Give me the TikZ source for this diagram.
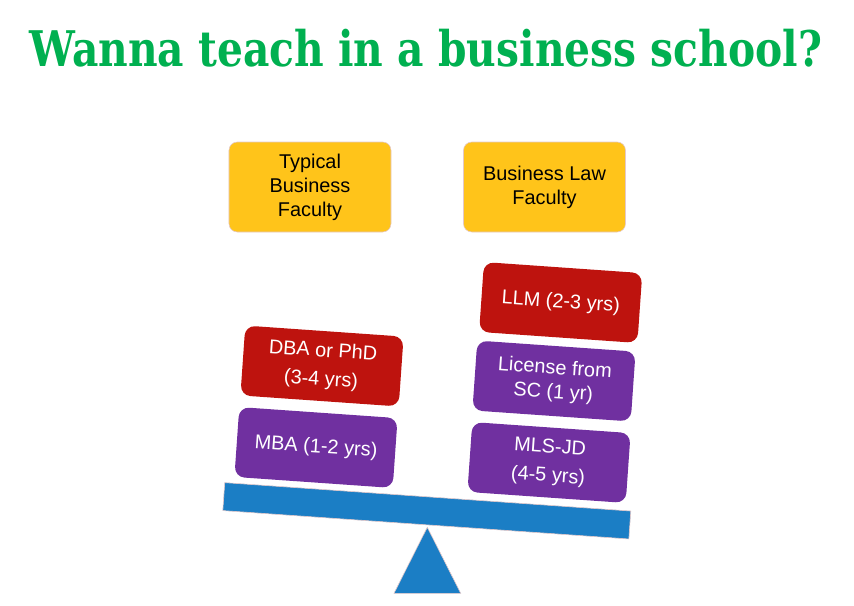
\documentclass[tikz,border=0pt]{standalone}
\usepackage{fontspec}
\setmainfont{Liberation Sans}
\newfontfamily\titlefont{DejaVu Serif}
\usepackage{graphicx}
\definecolor{titlegreen}{RGB}{0,176,80}
\definecolor{gold}{RGB}{255,196,26}
\definecolor{degred}{RGB}{190,19,14}
\definecolor{degpurple}{RGB}{112,48,160}
\definecolor{beamblue}{RGB}{27,126,197}
\definecolor{edgepink}{RGB}{228,200,200}

\begin{document}
\begin{tikzpicture}[x=0.03cm, y=-0.03cm,
  every node/.style={font=\fontsize{17}{20.4}\selectfont, align=center},
  goalbox/.style={fill=gold, draw=edgepink, line width=0.5pt, rounded corners=0.25cm,
    minimum width=4.86cm, minimum height=2.7cm, inner sep=0pt},
  degbox/.style={text=white, rounded corners=0.3cm, minimum width=4.76cm,
    minimum height=2.1cm, inner sep=0pt, rotate=-4,
    font=\fontsize{17}{20.5}\selectfont},
  redbox/.style={degbox, fill=degred},
  purplebox/.style={degbox, fill=degpurple}]
  \useasboundingbox (0,0) rectangle (854,605);

  % Title
  \node[anchor=base, inner sep=0pt] (title) at (426,66.7)
    {\resizebox{23.76cm}{1.12cm}{\color{titlegreen}\titlefont\bfseries Wanna teach in a business school?}};

  % Career goals
  \node[goalbox] (typical) at (310,187) {Typical\\Business\\Faculty};
  \node[goalbox] (lawfac) at (544.5,187) {Business Law\\Faculty};

  % Left stack
  \node[redbox] (dba) at (322,366) {DBA or PhD\\[4pt](3-4 yrs)};
  \node[purplebox] (mba) at (316,447.5) {MBA (1-2 yrs)};

  % Right stack
  \node[redbox] (llm) at (560.7,302.5) {LLM (2-3 yrs)};
  \node[purplebox] (license) at (554,381) {License from\\SC (1 yr)};
  \node[purplebox] (mlsjd) at (549,462.5) {MLS-JD\\[4pt](4-5 yrs)};

  % Seesaw
  \node[fill=beamblue, draw=edgepink, line width=0.5pt, minimum width=12.21cm,
    minimum height=0.84cm, inner sep=0pt, rotate=-4] (beam) at (426.8,510.8) {};
  \filldraw[fill=beamblue, draw=edgepink, line width=0.5pt]
    (427.3,527.3) -- (394,593.3) -- (460.7,593.3) -- cycle;
\end{tikzpicture}
\end{document}
